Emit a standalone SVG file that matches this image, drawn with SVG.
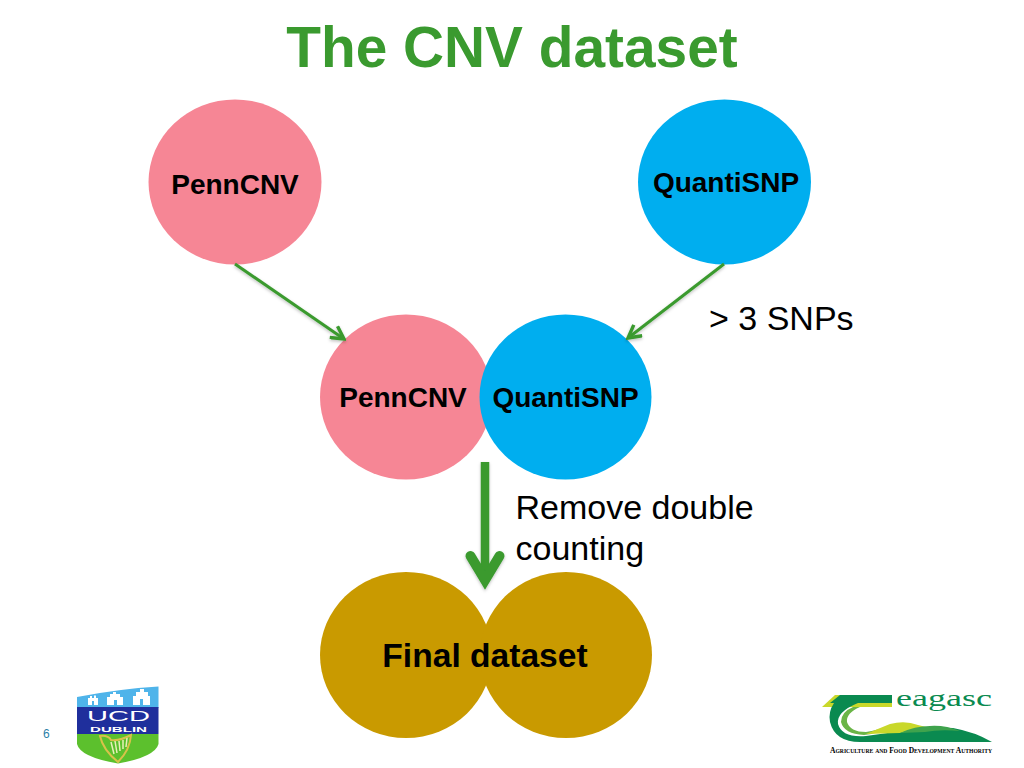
<svg xmlns="http://www.w3.org/2000/svg" width="1024" height="768" viewBox="0 0 1024 768">
<style>
text{font-family:"Liberation Sans",Arial,sans-serif;fill:#000}
.b{font-weight:bold;font-size:28px;text-anchor:middle}
.r{font-size:34px}
.pink{fill:#f68695}.blue{fill:#00aeef}.gold{fill:#c99a00}
.thin{fill:none;stroke:#3a9a2f;stroke-width:3}
.thick{fill:none;stroke:#3a9a2f;stroke-width:10;stroke-linecap:round;stroke-linejoin:miter}
.serif{font-family:"Liberation Serif",serif}
</style>
<defs>
<marker id="ah" markerUnits="userSpaceOnUse" markerWidth="16" markerHeight="16" refX="12" refY="7" orient="auto" viewBox="0 0 14 14"><path d="M1 1 L12 7 L1 13" fill="none" stroke="#3a9a2f" stroke-width="3"/></marker>
<filter id="sh" x="-20%" y="-20%" width="140%" height="140%"><feDropShadow dx="0" dy="1.500" stdDeviation="1.500" flood-color="#000" flood-opacity=".25"/></filter>
</defs>
<rect width="1024" height="768" fill="#fff"/>
<text id="title" x="512" y="67" text-anchor="middle" style="font-size:56.800px;font-weight:bold;fill:#3a9a2f">The CNV dataset</text>

<g id="node-penncnv-top"><ellipse class="pink" cx="235" cy="182" rx="86.500" ry="82.500"/><text class="b" x="235" y="194">PennCNV</text></g>
<g id="node-quantisnp-top"><ellipse class="blue" cx="724.500" cy="182" rx="86.500" ry="82.500"/><text class="b" x="726" y="192">QuantiSNP</text></g>
<g id="node-penncnv-mid"><ellipse class="pink" cx="406" cy="397" rx="86" ry="82.500"/><text class="b" x="403" y="407">PennCNV</text></g>
<g id="node-quantisnp-mid"><ellipse class="blue" cx="565.500" cy="397" rx="86" ry="82.500"/><text class="b" x="565.500" y="407">QuantiSNP</text></g>
<g id="node-final"><ellipse class="gold" cx="406" cy="655" rx="86" ry="83"/><ellipse class="gold" cx="566" cy="655" rx="86" ry="83"/><text class="b" x="485" y="667" style="font-size:33.600px">Final dataset</text></g>

<g id="connectors" filter="url(#sh)">
<path class="thin" d="M235 264 L344 339" marker-end="url(#ah)"/>
<path class="thin" d="M724 264 L628 338" marker-end="url(#ah)"/>
<path d="M485 462 V582" fill="none" stroke="#3a9a2f" stroke-width="8.500"/>
<path class="thick" d="M470.500 556 L485 580 L499.500 556"/>
</g>

<text id="label-snps" class="r" x="709" y="330">&gt; 3 SNPs</text>
<text id="label-remove" class="r"><tspan x="515.500" y="519">Remove double</tspan><tspan x="515.500" y="560">counting</tspan></text>
<text id="page" x="43" y="738" style="font-size:12px;fill:#2b7fa8">6</text>

<g id="logo-ucd">
<path d="M77 697 Q118 689 158.500 686.500 V708 H77 Z" fill="#4fb4ea"/>
<path fill="#fff" d="M88 705 V698 H90 V696 H92 V698 H94 V695.500 H96 V698 H98 V705 Z M107 705 V697 H110 V694 H113 V692 H116 V694 H120 V697 H123 V705 Z M133 705 V696 H136 V692 H140 V689 H144 V692 H148 V696 H150 V705 Z"/>
<path fill="#4fb4ea" d="M92 701 h2 v4 h-2 Z M114 700 h3 v5 h-3 Z M140 699 h3 v6 h-3 Z"/>
<rect x="77" y="707" width="81.500" height="27" fill="#1f2f9c"/>
<text x="87" y="721" textLength="63" lengthAdjust="spacingAndGlyphs" style="font-size:15.500px;fill:#fff">UCD</text>
<text x="90" y="731.500" textLength="57" lengthAdjust="spacingAndGlyphs" style="font-size:7.500px;fill:#fff;font-weight:bold">DUBLIN</text>
<path d="M77 734 H158.500 V744 Q155 757 118 763.500 Q80 757 77 744 Z" fill="#5cc02d"/>
<path d="M100 736 Q108 735 111 740 Q120 741 131 735 Q130 750 118 762 Q103 750 100 736 Z" fill="none" stroke="#d8c24a" stroke-width="2"/>
<path d="M111 742 L114 754 M115 741 L117 753 M119 741 L120 751 M123 740 L123 749 M127 738 L126 747" stroke="#e8efb8" stroke-width="1.500"/>
</g>

<g id="logo-teagasc">
<path d="M822 707 L835 695 H892 V707 Z" fill="#c9d82a"/>
<path d="M830 703 L840 695 H892 V703 Z" fill="#0a8a50"/>
<path d="M834 703 H858 Q836 712 838 724 Q842 738 866 736 Q885 733 905 731 Q925 726 953 728 Q975 732 992 742 H860 Q835 742 830 722 Q828 712 834 703 Z" fill="#0a8a50"/>
<path d="M853 707 H860 Q846 713 847 722 Q850 732 866 732 Q880 730 892 724 Q880 734 864 735 Q844 734 841 722 Q841 712 853 707 Z" fill="#6ab547"/>
<path d="M866 734 Q880 728 890 724 Q905 720 918 725 L926 727 Q912 729 900 733 Z" fill="#c9d82a"/>
<path d="M900 733 Q915 726 930 726 Q945 725 960 731 Q940 729 925 732 Z" fill="#3fa34d"/>
<text x="896" y="706" textLength="96" lengthAdjust="spacingAndGlyphs" class="serif" style="font-size:23px;fill:#0a8a50">eagasc</text>
<text x="830" y="753" textLength="162" lengthAdjust="spacingAndGlyphs" class="serif" style="font-size:8px;font-weight:bold;font-variant:small-caps">Agriculture and Food Development Authority</text>
</g>
</svg>
